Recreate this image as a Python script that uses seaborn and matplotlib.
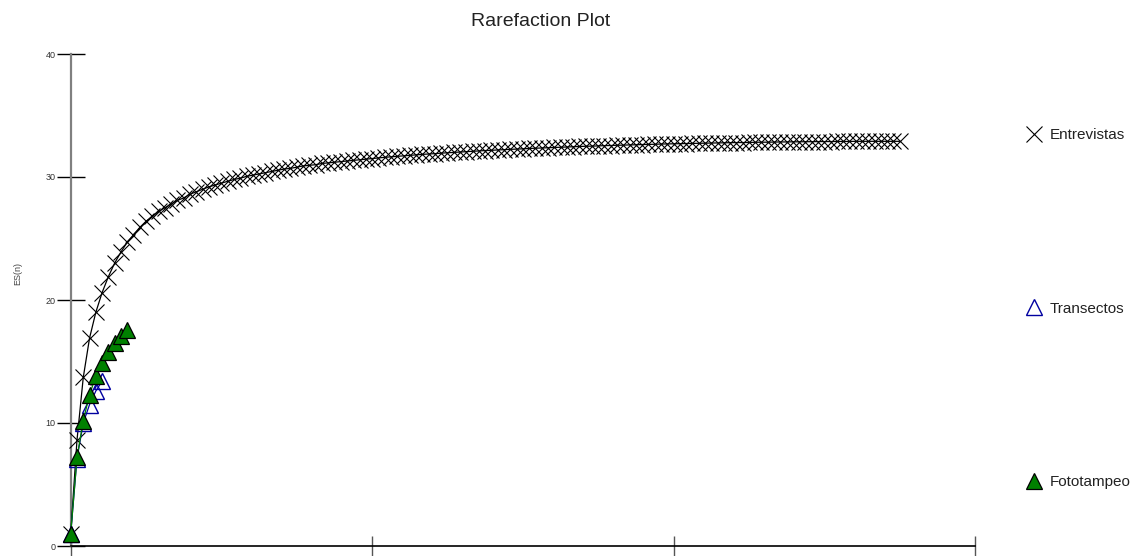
import numpy as np
import pandas as pd
import matplotlib
matplotlib.use("Agg")
import matplotlib.pyplot as plt
from matplotlib.lines import Line2D
import seaborn as sns

# ---- data ----
entrevistas = [
    1.0, 8.6, 13.7, 16.9, 19.0, 20.6, 21.9, 23.0, 23.9, 24.7,
    25.3, 25.9, 26.4, 26.8, 27.2, 27.5, 27.8, 28.1, 28.3, 28.6,
    28.8, 29.0, 29.2, 29.35, 29.5, 29.65, 29.8, 29.9, 30.05, 30.15,
    30.25, 30.35, 30.45, 30.55, 30.65, 30.7, 30.8, 30.9, 30.95, 31.0,
    31.1, 31.15, 31.2, 31.25, 31.3, 31.35, 31.4, 31.45, 31.5, 31.55,
    31.6, 31.64, 31.68, 31.72, 31.76, 31.8, 31.84, 31.87, 31.9, 31.94,
    31.97, 32.0, 32.03, 32.06, 32.09, 32.12, 32.15, 32.17, 32.2, 32.22,
    32.25, 32.27, 32.29, 32.32, 32.34, 32.36, 32.38, 32.4, 32.42, 32.44,
    32.46, 32.48, 32.5, 32.51, 32.53, 32.55, 32.56, 32.58, 32.59, 32.61,
    32.62, 32.64, 32.65, 32.66, 32.68, 32.69, 32.7, 32.71, 32.72, 32.73,
    32.74, 32.75, 32.76, 32.77, 32.78, 32.79, 32.8, 32.8, 32.81, 32.82,
    32.83, 32.83, 32.84, 32.85, 32.85, 32.86, 32.86, 32.87, 32.87, 32.88,
    32.88, 32.88, 32.89, 32.89, 32.89, 32.9, 32.9, 32.9, 32.9, 32.9,
    32.9, 32.9, 32.9,
]
transectos = [1.0, 7.1, 10.0, 11.5, 12.6, 13.4]
fototampeo = [1.0, 7.2, 10.2, 12.3, 13.8, 14.85, 15.8, 16.5, 17.1, 17.6]

series_names = ["Entrevistas", "Transectos", "Fototampeo"]
y_ticks = [0, 10, 20, 30, 40]
x_ticks = [1, 49, 97, 145]

sns.set_style("white")
plt.rcParams["font.family"] = ["Liberation Sans", "DejaVu Sans"]

fig = plt.figure(figsize=(11.35, 5.56), dpi=100)
W, H = 1135, 556
x0, x1 = 70.7, 975
yb, yt = 546, 54
ax = fig.add_axes([x0 / W, 1 - yb / H, (x1 - x0) / W, (yb - yt) / H])

def frame(vals, name):
    return pd.DataFrame({"n": np.arange(1, len(vals) + 1), "ES": vals, "s": name})

d_e = frame(entrevistas, series_names[0])
d_t = frame(transectos, series_names[1])
d_f = frame(fototampeo, series_names[2])

MS = 11
sns.lineplot(data=d_e, x="n", y="ES", ax=ax, color="black", lw=0.9,
             marker="x", markersize=MS, markeredgewidth=0.8,
             markeredgecolor="black", clip_on=False, zorder=3)
sns.lineplot(data=d_t, x="n", y="ES", ax=ax, color="#0000A0", lw=0.9,
             marker="^", markersize=MS, markeredgewidth=1.0,
             markerfacecolor="none", markeredgecolor="#0000A0",
             clip_on=False, zorder=4)
sns.lineplot(data=d_f, x="n", y="ES", ax=ax, color="#008000", lw=0.9,
             marker="^", markersize=MS, markeredgewidth=0.9,
             markerfacecolor="#008000", markeredgecolor="black",
             clip_on=False, zorder=5)

ax.set_xlim(x_ticks[0], x_ticks[-1])
ax.set_ylim(y_ticks[0], y_ticks[-1])
ax.set_xticks(x_ticks)
ax.set_xticklabels([])
ax.set_yticks(y_ticks)
ax.set_yticklabels([str(v) for v in y_ticks])
ax.set_xlabel("")
ax.set_ylabel("")

for s in ["top", "right"]:
    ax.spines[s].set_visible(False)
ax.spines["left"].set_color("#808080")
ax.spines["left"].set_linewidth(1.6)
ax.spines["bottom"].set_color("black")
ax.spines["bottom"].set_linewidth(1.2)

ax.tick_params(axis="y", left=True, direction="inout", length=20, width=1.0,
               color="black", labelsize=6.5, labelcolor="#333333", pad=1)
ax.tick_params(axis="x", bottom=True, direction="inout", length=14, width=1.0,
               color="#555555")

fig.text(18 / W, 1 - 273 / H, "ES(n)", rotation=90, ha="center", va="center",
         fontsize=6.5, color="#444444")
fig.text(541 / W, 1 - 22 / H, "Rarefaction Plot", ha="center", va="center",
         fontsize=14, color="#222222")

handles = [
    Line2D([], [], ls="none", marker="x", markersize=MS, markeredgewidth=0.8,
           color="black"),
    Line2D([], [], ls="none", marker="^", markersize=MS, markeredgewidth=1.0,
           markerfacecolor="none", markeredgecolor="#0000A0"),
    Line2D([], [], ls="none", marker="^", markersize=MS, markeredgewidth=0.9,
           markerfacecolor="#008000", markeredgecolor="black"),
]
leg = fig.legend(handles=handles, labels=series_names, loc="upper left",
                 bbox_to_anchor=(1026 / W, 1 - 128 / H), frameon=False,
                 fontsize=11, labelspacing=10.45, handlelength=1.1,
                 handletextpad=0.45, borderpad=0, borderaxespad=0)
for t in leg.get_texts():
    t.set_color("#222222")

fig.savefig("out.png", dpi=100)
